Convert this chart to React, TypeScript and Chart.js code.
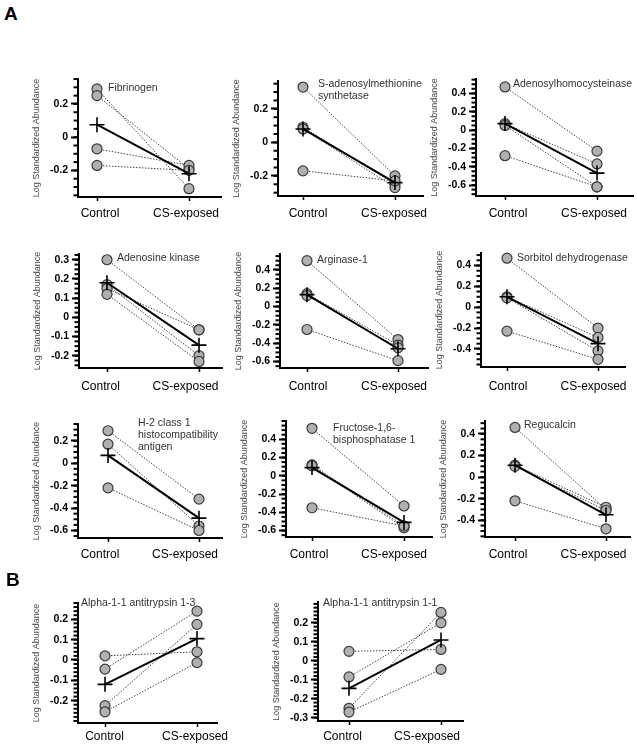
import React, { useEffect, useRef } from "react";
import { Chart, registerables } from "chart.js";

Chart.register(...registerables);
const FONT = "'Liberation Sans', Arial, Helvetica, sans-serif";
Chart.defaults.font.family = FONT;

// ---------- data ----------
const groups = ["Control", "CS-exposed"];
const yAxisTitle = "Log Standardized Abundance";

const fibrinogenControl = [0.29, 0.25, -0.07, -0.17];
const fibrinogenExposed = [-0.31, -0.19, -0.17, -0.2];
const fibrinogenMean = [0.075, -0.22];
const fibrinogenTicks = [-0.2, 0, 0.2];

const samsControl = [0.33, 0.09, 0.08, -0.17];
const samsExposed = [-0.2, -0.25, -0.27, -0.23];
const samsMean = [0.08, -0.24];
const samsTicks = [-0.2, 0, 0.2];

const ahcyControl = [0.47, 0.07, 0.05, -0.28];
const ahcyExposed = [-0.23, -0.37, -0.62, -0.62];
const ahcyMean = [0.07, -0.47];
const ahcyTicks = [-0.6, -0.4, -0.2, 0, 0.2, 0.4];

const adkControl = [0.3, 0.17, 0.15, 0.12];
const adkExposed = [-0.065, -0.2, -0.065, -0.23];
const adkMean = [0.18, -0.145];
const adkTicks = [-0.2, -0.1, 0, 0.1, 0.2, 0.3];

const arg1Control = [0.5, 0.14, 0.12, -0.25];
const arg1Exposed = [-0.36, -0.42, -0.45, -0.59];
const arg1Mean = [0.13, -0.46];
const arg1Ticks = [-0.6, -0.4, -0.2, 0, 0.2, 0.4];

const sordControl = [0.47, 0.1, 0.09, -0.23];
const sordExposed = [-0.2, -0.29, -0.42, -0.5];
const sordMean = [0.1, -0.35];
const sordTicks = [-0.4, -0.2, 0, 0.2, 0.4];

const h2Control = [0.29, 0.17, -0.22];
const h2Exposed = [-0.32, -0.56, -0.6];
const h2Mean = [0.07, -0.49];
const h2Ticks = [-0.6, -0.4, -0.2, 0, 0.2];

const fbpControl = [0.52, 0.12, 0.11, -0.35];
const fbpExposed = [-0.33, -0.55, -0.57, -0.55];
const fbpMean = [0.09, -0.51];
const fbpTicks = [-0.6, -0.4, -0.2, 0, 0.2, 0.4];

const rgnControl = [0.46, 0.11, 0.1, -0.22];
const rgnExposed = [-0.3, -0.28, -0.31, -0.48];
const rgnMean = [0.11, -0.35];
const rgnTicks = [-0.4, -0.2, 0, 0.2, 0.4];

const a13Control = [0.02, -0.045, -0.225, -0.255];
const a13Exposed = [0.04, 0.24, 0.175, -0.013];
const a13Mean = [-0.12, 0.105];
const a13Ticks = [-0.2, -0.1, 0, 0.1, 0.2];

const a11Control = [0.05, -0.085, -0.25, -0.27];
const a11Exposed = [0.06, 0.2, 0.255, -0.045];
const a11Mean = [-0.145, 0.11];
const a11Ticks = [-0.3, -0.2, -0.1, 0, 0.1, 0.2];

// ---------- layout ----------
type Panel = {
  label: string[];
  control: number[];
  exposed: number[];
  mean: number[];
  ticks: number[];
  minor: number;
  yMin: number;
  yMax: number;
  l: number; t: number; r: number; b: number;
  cx: number; ex: number;
  lx: number; ly: number;
  gx: number[]; gy: number;
};

const panels: Panel[] = [
  { label: ["Fibrinogen"], control: fibrinogenControl, exposed: fibrinogenExposed, mean: fibrinogenMean, ticks: fibrinogenTicks, minor: 0.05, yMin: -0.36, yMax: 0.35, l: 78, t: 79, r: 221, b: 197, cx: 97, ex: 189, lx: 108, ly: 87, gx: [100, 186], gy: 213.5 },
  { label: ["S-adenosylmethionine", "synthetase"], control: samsControl, exposed: samsExposed, mean: samsMean, ticks: samsTicks, minor: 0.05, yMin: -0.32, yMax: 0.366, l: 278, t: 81, r: 423, b: 196, cx: 303, ex: 395, lx: 318, ly: 83, gx: [308, 394], gy: 213.5 },
  { label: ["Adenosylhomocysteinase"], control: ahcyControl, exposed: ahcyExposed, mean: ahcyMean, ticks: ahcyTicks, minor: 0.05, yMin: -0.72, yMax: 0.557, l: 476, t: 79, r: 633, b: 196, cx: 505, ex: 597, lx: 513, ly: 83, gx: [508, 594], gy: 213.5 },
  { label: ["Adenosine kinase"], control: adkControl, exposed: adkExposed, mean: adkMean, ticks: adkTicks, minor: 0.025, yMin: -0.264, yMax: 0.33, l: 79, t: 254, r: 222, b: 368, cx: 107, ex: 199, lx: 117, ly: 257, gx: [100.5, 185.5], gy: 387 },
  { label: ["Arginase-1"], control: arg1Control, exposed: arg1Exposed, mean: arg1Mean, ticks: arg1Ticks, minor: 0.05, yMin: -0.67, yMax: 0.573, l: 280, t: 254, r: 428, b: 368, cx: 307, ex: 398, lx: 317, ly: 259, gx: [308, 394], gy: 387 },
  { label: ["Sorbitol dehydrogenase"], control: sordControl, exposed: sordExposed, mean: sordMean, ticks: sordTicks, minor: 0.05, yMin: -0.574, yMax: 0.52, l: 481, t: 253, r: 625, b: 367, cx: 507, ex: 598, lx: 517, ly: 257, gx: [508, 593.5], gy: 387 },
  { label: ["H-2 class 1", "histocompatibility", "antigen"], control: h2Control, exposed: h2Exposed, mean: h2Mean, ticks: h2Ticks, minor: 0.05, yMin: -0.667, yMax: 0.35, l: 78, t: 424, r: 222, b: 538, cx: 108, ex: 199, lx: 138, ly: 422, gx: [100, 185], gy: 555 },
  { label: ["Fructose-1,6-", "bisphosphatase 1"], control: fbpControl, exposed: fbpExposed, mean: fbpMean, ticks: fbpTicks, minor: 0.05, yMin: -0.67, yMax: 0.6, l: 286, t: 421, r: 432, b: 537, cx: 312, ex: 404, lx: 333, ly: 427, gx: [309, 394], gy: 555 },
  { label: ["Regucalcin"], control: rgnControl, exposed: rgnExposed, mean: rgnMean, ticks: rgnTicks, minor: 0.05, yMin: -0.556, yMax: 0.52, l: 485, t: 421, r: 630, b: 537, cx: 515, ex: 606, lx: 524, ly: 424, gx: [508, 593.5], gy: 555 },
  { label: ["Alpha-1-1 antitrypsin 1-3"], control: a13Control, exposed: a13Exposed, mean: a13Mean, ticks: a13Ticks, minor: 0.02, yMin: -0.31, yMax: 0.28, l: 78, t: 603, r: 217, b: 723, cx: 105, ex: 197, lx: 81, ly: 602, gx: [104.5, 195], gy: 737 },
  { label: ["Alpha-1-1 antitrypsin 1-1"], control: a11Control, exposed: a11Exposed, mean: a11Mean, ticks: a11Ticks, minor: 0.02, yMin: -0.317, yMax: 0.31, l: 318, t: 602, r: 463, b: 721, cx: 349, ex: 441, lx: 323, ly: 602, gx: [342.5, 427], gy: 737 },
];

const PAD_L = 62;
const PAD_T = 14;
const PAD_R = 24;
const X_H = 30;

const fmt = (v: number) => Number(v.toFixed(2)).toString();

function PairChart({ p }: { p: Panel }) {
  const ref = useRef<HTMLCanvasElement>(null);
  const width = p.r - p.l + PAD_L + PAD_R;
  const height = p.b - p.t + PAD_T + X_H;
  const originX = p.l - PAD_L;
  const originY = p.t - PAD_T;
  useEffect(() => {
    if (!ref.current) return;
    const unit = p.ex - p.cx;
    const xMin = -(p.cx - p.l) / unit;
    const xMax = 1 + (p.r - p.ex) / unit;
    const minorStep = p.minor;
    const labelItems = groups.map((g, i) => ({
      text: g,
      x: p.gx[i] - originX,
      y: p.gy - originY,
    }));

    const extras = {
      id: "extras" + Math.random().toString(36).slice(2),
      afterDraw(chart: any) {
        const y = chart.scales.y;
        const ctx = chart.ctx;
        const left = chart.chartArea.left;
        ctx.save();
        ctx.strokeStyle = "#000";
        ctx.lineWidth = 2;
        const start = Math.ceil(p.yMin / minorStep - 1e-6);
        const end = Math.floor(p.yMax / minorStep + 1e-6);
        for (let k = start; k <= end; k++) {
          const py = y.getPixelForValue(k * minorStep);
          ctx.beginPath();
          ctx.moveTo(left - 4.5, py);
          ctx.lineTo(left, py);
          ctx.stroke();
        }
        ctx.font = "12px " + FONT;
        ctx.fillStyle = "#000";
        ctx.textAlign = "center";
        ctx.textBaseline = "middle";
        labelItems.forEach((it) => ctx.fillText(it.text, it.x, it.y));
        ctx.restore();
      },
    };

    const pairSets = p.control.map((c, i) => ({
      data: [{ x: 0, y: c }, { x: 1, y: p.exposed[i] }],
      showLine: true,
      borderColor: "#444",
      borderWidth: 1,
      borderDash: [1.5, 1.5],
      pointRadius: 0,
      order: 3,
      clip: false as any,
    }));
    const pointSet = {
      data: [
        ...p.control.map((v) => ({ x: 0, y: v })),
        ...p.exposed.map((v) => ({ x: 1, y: v })),
      ],
      showLine: false,
      pointRadius: 5,
      backgroundColor: "#b0b0b0",
      borderColor: "#3a3a3a",
      borderWidth: 1.2,
      order: 2,
      clip: false as any,
    };
    const meanSet = {
      data: [{ x: 0, y: p.mean[0] }, { x: 1, y: p.mean[1] }],
      showLine: true,
      borderColor: "#000",
      borderWidth: 2,
      pointStyle: "cross",
      pointRadius: 7.5,
      pointBorderWidth: 1.6,
      pointBorderColor: "#000",
      order: 1,
      clip: false as any,
    };
    const chart = new Chart(ref.current, {
      type: "scatter",
      data: { datasets: [meanSet, pointSet, ...pairSets] as any },
      options: {
        animation: false,
        responsive: false,
        events: [],
        layout: { padding: { left: 0, top: PAD_T, right: PAD_R, bottom: 0 } },
        plugins: {
          legend: { display: false },
          tooltip: { enabled: false },
        },
        scales: {
          x: {
            type: "linear",
            min: xMin,
            max: xMax,
            bounds: "data",
            afterBuildTicks: (s: any) => {
              s.ticks = [{ value: 0 }, { value: 1 }];
            },
            afterFit: (s: any) => {
              s.height = X_H;
            },
            ticks: { display: false },
            grid: {
              drawOnChartArea: false,
              drawTicks: true,
              tickLength: 4,
              tickWidth: 1.5,
              tickColor: "#000",
            },
            border: { display: true, color: "#000", width: 2 },
          },
          y: {
            type: "linear",
            min: p.yMin,
            max: p.yMax,
            bounds: "data",
            afterBuildTicks: (s: any) => {
              s.ticks = p.ticks.map((v) => ({ value: v }));
            },
            afterFit: (s: any) => {
              s.width = PAD_L;
            },
            ticks: {
              callback: (v: any) => fmt(Number(v)),
              font: { size: 10.5, weight: "bold" },
              color: "#000",
              padding: 3,
              autoSkip: false,
            },
            grid: {
              drawOnChartArea: false,
              drawTicks: true,
              tickLength: 7,
              tickWidth: 2,
              tickColor: "#000",
            },
            border: { display: true, color: "#000", width: 2 },
            title: {
              display: true,
              text: yAxisTitle,
              font: { size: 9 },
              color: "#4a4a4a",
              padding: { top: 15.6, bottom: 0 },
            },
          },
        },
      } as any,
      plugins: [extras as any],
    });
    return () => chart.destroy();
  }, [p]);
  return (
    <canvas
      ref={ref}
      width={width}
      height={height}
      style={{
        position: "absolute",
        left: originX,
        top: originY,
        width,
        height,
      }}
    />
  );
}

export default function App() {
  return (
    <div
      style={{
        position: "absolute",
        left: 0,
        top: 0,
        width: 637,
        height: 748,
        background: "#fff",
        overflow: "hidden",
        fontFamily: FONT,
      }}
    >
      {panels.map((p, i) => (
        <PairChart key={i} p={p} />
      ))}
      {panels.map((p, i) => (
        <div
          key={"l" + i}
          style={{
            position: "absolute",
            left: p.lx,
            top: p.ly - 6,
            fontSize: 10.5,
            lineHeight: "12px",
            color: "#333",
            whiteSpace: "nowrap",
          }}
        >
          {p.label.map((s, j) => (
            <div key={j}>{s}</div>
          ))}
        </div>
      ))}
      <div style={{ position: "absolute", left: 4, top: 4, fontSize: 19, fontWeight: "bold", lineHeight: "19px" }}>A</div>
      <div style={{ position: "absolute", left: 6, top: 570, fontSize: 19, fontWeight: "bold", lineHeight: "19px" }}>B</div>
    </div>
  );
}
